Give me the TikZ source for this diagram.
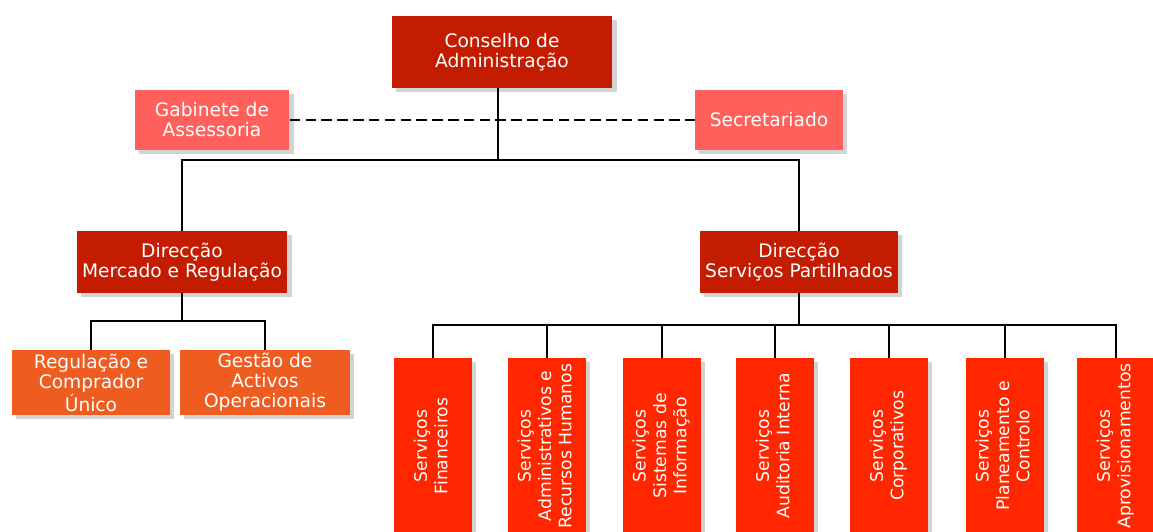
\documentclass[tikz,border=0pt]{standalone}
\usepackage{fontspec}
\setmainfont{DejaVu Sans}
\usepackage{graphicx}
\usetikzlibrary{shadows}

\definecolor{chefered}{RGB}{196,28,0}
\definecolor{apoiored}{RGB}{255,96,92}
\definecolor{areaorange}{RGB}{238,92,32}
\definecolor{servred}{RGB}{255,38,0}

\newcommand{\vlabel}[1]{\rotatebox{90}{\begin{tabular}{@{}c@{}}#1\end{tabular}}}

\begin{document}
\begin{tikzpicture}[x=0.02cm,y=-0.02cm,
    box/.style={text=white, align=center, inner sep=0pt,
        font=\fontsize{10.6}{11.4}\selectfont,
        drop shadow={opacity=0.35, shadow xshift=2.5pt, shadow yshift=-2.5pt}},
    chefe/.style={box, fill=chefered},
    apoio/.style={box, fill=apoiored},
    area/.style={box, fill=areaorange, minimum height=1.3cm},
    servico/.style={box, fill=servred, minimum width=1.56cm, minimum height=3.52cm,
        font=\fontsize{9.8}{11.6}\selectfont},
    linha/.style={line width=1pt}]
    \useasboundingbox (0,0) rectangle (1153,531);
    \clip (0,0) rectangle (1153,531);

    \node[chefe, minimum width=4.42cm, minimum height=1.44cm] (conselho) at (502,52) {Conselho de\\Administração};
    \node[apoio, minimum width=3.1cm, minimum height=1.2cm] (gabinete) at (212,120) {Gabinete de\\Assessoria};
    \node[apoio, minimum width=2.96cm, minimum height=1.2cm] (secret) at (769,120) {Secretariado};

    \node[chefe, minimum width=4.22cm, minimum height=1.24cm] (dmr) at (182,262) {Direcção\\Mercado e Regulação};
    \node[chefe, minimum width=3.96cm, minimum height=1.24cm] (dsp) at (799,262) {Direcção\\Serviços Partilhados};

    \node[area, minimum width=3.16cm] (regul) at (91,382.5) {Regulação e\\Comprador\\Único};
    \node[area, minimum width=3.4cm] (gestao) at (265,382.5) {Gestão de\\Activos\\Operacionais};

    \node[servico] (sfin) at (433,446) {\vlabel{Serviços\\Financeiros}};
    \node[servico] (sarh) at (547,446) {\vlabel{Serviços\\Administrativos e\\Recursos Humanos}};
    \node[servico] (ssi) at (662,446) {\vlabel{Serviços\\Sistemas de\\Informação}};
    \node[servico] (sai) at (775,446) {\vlabel{Serviços\\Auditoria Interna}};
    \node[servico] (scorp) at (889,446) {\vlabel{Serviços\\Corporativos}};
    \node[servico] (spc) at (1005,446) {\vlabel{Serviços\\Planeamento e\\Controlo}};
    \node[servico] (saprov) at (1116,446) {\vlabel{Serviços\\Aprovisionamentos}};

    \coordinate (topo) at (498,160);
    \coordinate (esq) at (182,321);
    \coordinate (dir) at (799,325);

    \draw[dashed, line width=1pt, dash pattern=on 6pt off 3pt] (gabinete.east) -- (secret.west);
    \draw[line width=1.7pt] (conselho.south -| topo) -- (topo);
    \draw[line width=1.1pt] (dmr.north) |- (topo) -| (dsp.north);

    \draw[linha] (dmr.south) -- (esq);
    \draw[linha] (regul.north) |- (esq) -| (gestao.north);

    \draw[line width=1.2pt] (dsp.south) -- (dir);
    \foreach \s in {sfin,sarh,ssi,sai,scorp,spc,saprov}
        \draw[linha] (\s.north) |- (dir);
\end{tikzpicture}
\end{document}
